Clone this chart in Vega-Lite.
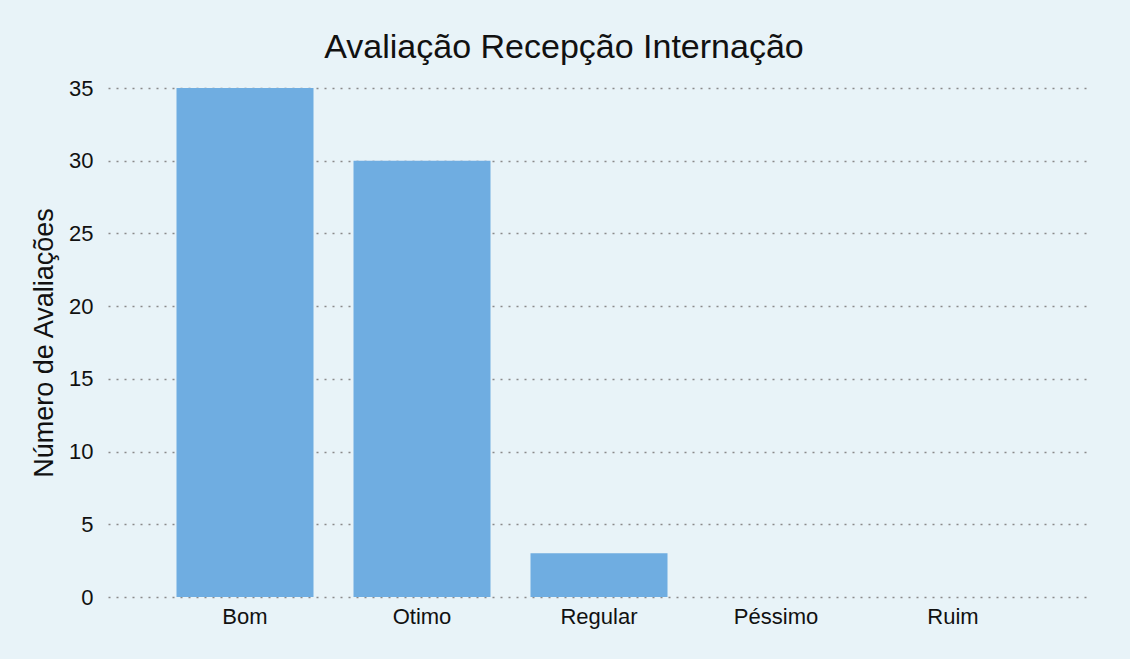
{
  "$schema": "https://vega.github.io/schema/vega-lite/v6.json",
  "width": 982,
  "height": 509,
  "autosize": {"type": "none"},
  "padding": {"left": 108, "top": 88, "right": 40, "bottom": 62},
  "background": "#e8f3f8",
  "title": {
    "text": "Avaliação Recepção Internação",
    "anchor": "middle",
    "frame": "group",
    "dx": -35,
    "offset": 12,
    "font": "Liberation Sans",
    "fontSize": 34,
    "fontWeight": "normal",
    "color": "#111111"
  },
  "data": {
    "values": [
      {"categoria": "Bom", "avaliacoes": 35},
      {"categoria": "Otimo", "avaliacoes": 30},
      {"categoria": "Regular", "avaliacoes": 3},
      {"categoria": "Péssimo", "avaliacoes": 0},
      {"categoria": "Ruim", "avaliacoes": 0}
    ]
  },
  "mark": {"type": "bar", "color": "#6fade1"},
  "encoding": {
    "x": {
      "field": "categoria",
      "type": "nominal",
      "sort": null,
      "scale": {"paddingInner": 0.226, "paddingOuter": 0.387},
      "axis": {
        "title": null,
        "labelAngle": 0,
        "labelFont": "Liberation Sans",
        "labelFontSize": 22,
        "labelColor": "#111111",
        "labelPadding": 9,
        "ticks": false,
        "domain": false,
        "grid": false
      }
    },
    "y": {
      "field": "avaliacoes",
      "type": "quantitative",
      "scale": {"domain": [0, 35], "nice": false},
      "axis": {
        "title": "Número de Avaliações",
        "titleFont": "Liberation Sans",
        "titleFontSize": 27,
        "titleFontWeight": "normal",
        "titleColor": "#111111",
        "titlePadding": 10,
        "values": [0, 5, 10, 15, 20, 25, 30, 35],
        "labelFont": "Liberation Sans",
        "labelFontSize": 22,
        "labelColor": "#111111",
        "labelPadding": 15,
        "ticks": false,
        "domain": false,
        "grid": true,
        "gridColor": "#8a8a8a",
        "gridDash": [2, 6],
        "gridWidth": 1.5
      }
    }
  },
  "config": {"view": {"stroke": null}}
}
